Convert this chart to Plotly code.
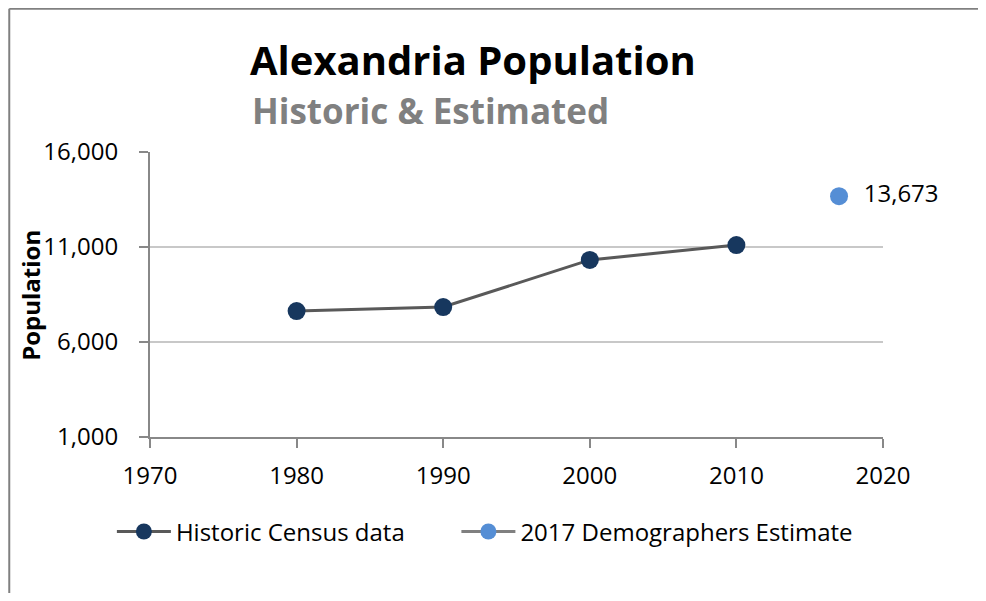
import plotly.graph_objects as go

# Data
census_years = [1980, 1990, 2000, 2010]
census_pop = [7630, 7840, 10320, 11100]

estimate_years = [2017]
estimate_pop = [13673]
estimate_labels = ["13,673"]

y_ticks = [1000, 6000, 11000, 16000]
x_ticks = [1970, 1980, 1990, 2000, 2010, 2020]

FONT = "Open Sans"

fig = go.Figure()

fig.add_trace(go.Scatter(
    x=census_years, y=census_pop,
    mode="lines+markers",
    name="Historic Census data",
    line=dict(color="#595959", width=3),
    marker=dict(color="#17375E", size=18),
    cliponaxis=False,
    legend="legend",
))

fig.add_trace(go.Scatter(
    x=estimate_years, y=estimate_pop,
    mode="lines+markers+text",
    name="2017 Demographers Estimate",
    line=dict(color="#808080", width=3),
    marker=dict(color="#558ED5", size=18),
    text=estimate_labels,
    texttemplate="  %{text}",
    textposition="middle right",
    textfont=dict(size=24, color="black", family=FONT),
    cliponaxis=False,
    legend="legend2",
))

legend_style = dict(
    orientation="h",
    yanchor="middle",
    xanchor="left",
    font=dict(size=24),
    itemwidth=54,
    bgcolor="rgba(0,0,0,0)",
)

# chart frame: only the left and top edges show in the picture
frame = dict(color="#808080", width=2)

# figure sits 8px in from the page corner (body margin); keep it inside the window
fig.update_layout(
    width=970, height=585,
    margin=dict(l=142, r=95, t=144, b=156),
    paper_bgcolor="white",
    plot_bgcolor="white",
    font=dict(family=FONT, color="black"),
    showlegend=True,
    legend=dict(legend_style, x=-0.052, y=-0.333),
    legend2=dict(legend_style, x=0.418, y=-0.333),
    annotations=[
        dict(text="<b>Alexandria Population</b>", x=0.44, y=1.323,
             xref="paper", yref="paper", showarrow=False,
             xanchor="center", yanchor="middle",
             font=dict(size=40, color="black", family=FONT)),
        dict(text="<b>Historic & Estimated</b>", x=0.382, y=1.144,
             xref="paper", yref="paper", showarrow=False,
             xanchor="center", yanchor="middle",
             font=dict(size=35, color="#808080", family=FONT)),
        dict(text="<b>Population</b>", x=-0.164, y=0.498,
             xref="paper", yref="paper", showarrow=False,
             xanchor="center", yanchor="middle", textangle=-90,
             font=dict(size=24, color="black", family=FONT)),
    ],
    shapes=[
        dict(type="line", xref="paper", yref="paper",
             x0=-0.192, x1=-0.192, y0=-0.6, y1=1.503,
             line=frame, layer="below"),
        dict(type="line", xref="paper", yref="paper",
             x0=-0.192, x1=1.2, y0=1.503, y1=1.503,
             line=frame, layer="below"),
    ],
)

fig.update_xaxes(
    range=[1970, 2020],
    tickvals=x_ticks,
    showgrid=False,
    showline=True, linecolor="#888888", linewidth=2,
    ticks="outside", ticklen=9, tickcolor="#888888", tickwidth=2,
    tickfont=dict(size=24),
    ticklabelstandoff=7,
    zeroline=False,
)

fig.update_yaxes(
    range=[1000, 16000],
    tickvals=y_ticks,
    tickformat=",",
    showgrid=True, gridcolor="#C8C8C8", gridwidth=2,
    showline=True, linecolor="#888888", linewidth=2,
    ticks="outside", ticklen=9, tickcolor="#888888", tickwidth=2,
    tickfont=dict(size=24),
    ticklabelstandoff=16,
    zeroline=False,
)

fig.write_html("out.html")
